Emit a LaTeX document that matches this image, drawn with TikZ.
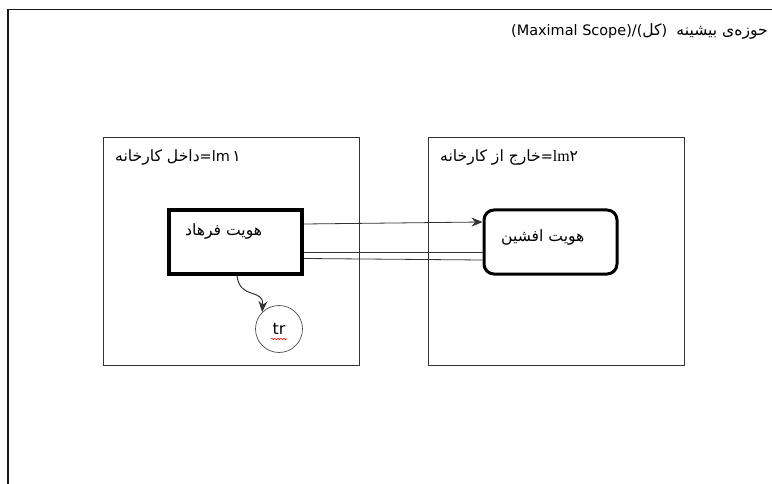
\documentclass[tikz,border=0pt]{standalone}
\usepackage{fontspec}
\setmainfont{DejaVu Sans}
\newfontfamily\arabicfont[Script=Arabic,Scale=1.08]{DejaVu Sans}
\newfontfamily\latinserif{Liberation Serif}
\TeXXeTstate=1
\usetikzlibrary{arrows.meta,decorations.pathmorphing}
\tikzset{
  scopebox/.style={draw=black!80, line width=0.8bp, minimum width=256bp, minimum height=228bp, inner sep=0pt},
  entity/.style={draw=black, line width=4bp, minimum width=133bp, minimum height=64bp, inner sep=0pt},
  roundentity/.style={entity, line width=3bp, rounded corners=10bp},
  thin link/.style={draw=black!80, line width=0.8bp},
  arrow link/.style={thin link, -{Stealth[length=11bp,width=9bp]}},
  label text/.style={font=\fontsize{14.5}{16}\selectfont, inner sep=0pt, anchor=west},
  tag/.style={draw=black!70, line width=0.7bp, circle, minimum size=47bp, inner sep=0pt, font=\fontsize{16}{18}\selectfont}
}
\begin{document}
\begin{tikzpicture}[x=1bp, y=-1bp]
\useasboundingbox (0,0) rectangle (772,484);
% outer frame, open at the right and bottom
\draw[line width=1.5bp, black!90] (8,484) -- (8,9.5) -- (772,9.5);
% heading
\node[font=\fontsize{14.5}{16}\selectfont, inner sep=0pt, anchor=east] (heading) at (768,31)
  {(Maximal Scope)/({\arabicfont\beginR کل\endR})\ \ {\arabicfont\beginR حوزه‌ی بیشینه\endR}};
% the two scopes
\node[scopebox] (inside) at (231,251) {};
\node[scopebox] (outside) at (556,251) {};
\node[label text] (insidelabel) at (115,157)
  {{\arabicfont\beginR داخل کارخانه\endR}=lm\,{\arabicfont ۱}};
\node[label text] (outsidelabel) at (440,157)
  {{\arabicfont\beginR خارج از کارخانه\endR}={\latinserif\fontsize{16}{18}\selectfont lm}{\arabicfont ۲}};
% entities
\node[entity] (farhad) at (235.5,242) {};
\node[label text, font=\fontsize{14.5}{16}\selectfont\arabicfont] (farhadname) at (185,231) {\beginR هویت فرهاد\endR};
\node[roundentity] (afshin) at (550.5,242) {};
\node[label text, font=\fontsize{14.5}{16}\selectfont\arabicfont] (afshinname) at (501,237) {\beginR هویت افشین\endR};
% tr circle
\node[tag] (tr) at (279,329) {tr};
\draw[red, line width=0.5bp, decorate, decoration={snake, amplitude=0.8bp, segment length=3bp}]
  ([xshift=-8bp,yshift=-10bp]tr.center) -- ([xshift=8bp,yshift=-10bp]tr.center);
% connectors
\coordinate (a1) at (farhad.east |- 0,224);
\coordinate (b1) at (afshin.west |- 0,222);
\draw[arrow link] (a1) -- (b1);
\coordinate (a2) at (farhad.east |- 0,252.5);
\coordinate (b2) at (afshin.west |- 0,252.5);
\draw[thin link] (a2) -- (b2);
\coordinate (a3) at (farhad.east |- 0,258.5);
\coordinate (b3) at (afshin.west |- 0,260);
\draw[thin link] (a3) -- (b3);
\coordinate (c1) at (237,276);
\draw[arrow link, line width=1bp] (c1) .. controls (240,300) and (264,288) .. (tr.north west);
\end{tikzpicture}
\end{document}
